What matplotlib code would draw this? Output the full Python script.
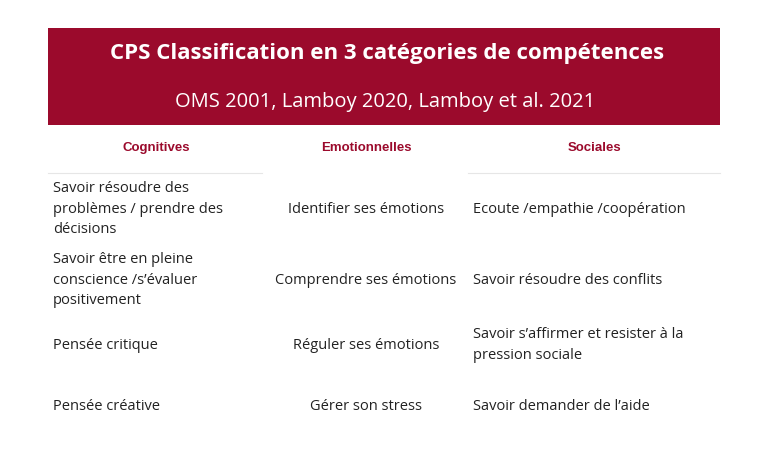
import matplotlib.pyplot as plt
from matplotlib.patches import Rectangle

title = "CPS Classification en 3 catégories de compétences"
subtitle = "OMS 2001, Lamboy 2020, Lamboy et al. 2021"
headers = ["Cognitives", "Emotionnelles", "Sociales"]
cognitives = ["Savoir résoudre des\nproblèmes / prendre des\ndécisions",
              "Savoir être en pleine\nconscience /s’évaluer\npositivement",
              "Pensée critique",
              "Pensée créative"]
emotionnelles = ["Identifier ses émotions", "Comprendre ses émotions",
                 "Réguler ses émotions", "Gérer son stress"]
sociales = ["Ecoute /empathie /coopération", "Savoir résoudre des conflits",
            "Savoir s’affirmer et resister à la\npression sociale",
            "Savoir demander de l’aide"]
row_y = [209, 280, 345, 406]

red = "#9b0a2c"
fig = plt.figure(figsize=(7.68, 4.65), dpi=100)
ax = fig.add_axes([0, 0, 1, 1])
ax.set_xlim(0, 768)
ax.set_ylim(465, 0)
ax.axis("off")

ax.add_patch(Rectangle((48, 28), 672, 97, color=red, lw=0))
ax.text(387, 53, title, color="white", fontsize=16, fontweight="bold",
        family="Open Sans", ha="center", va="center")
ax.text(385, 102, subtitle, color="white", fontsize=14.5,
        family="Open Sans", ha="center", va="center")

for x, h in zip([156, 366, 594], headers):
    ax.text(x, 148, h, color=red, fontsize=9.5, fontweight="bold",
            family="Liberation Sans", ha="center", va="center")
ax.plot([48, 262], [173, 173], color="#e6e6e6", lw=0.8)
ax.plot([468, 720], [173, 173], color="#e6e6e6", lw=0.8)

body = dict(fontsize=10.5, family="Open Sans", color="#222222", va="center",
            linespacing=1.5)
for y, c, e, s in zip(row_y, cognitives, emotionnelles, sociales):
    ax.text(53, y, c, ha="left", **body)
    ax.text(366, y, e, ha="center", **body)
    ax.text(473, y, s, ha="left", **body)

fig.savefig("out.png", dpi=100)
